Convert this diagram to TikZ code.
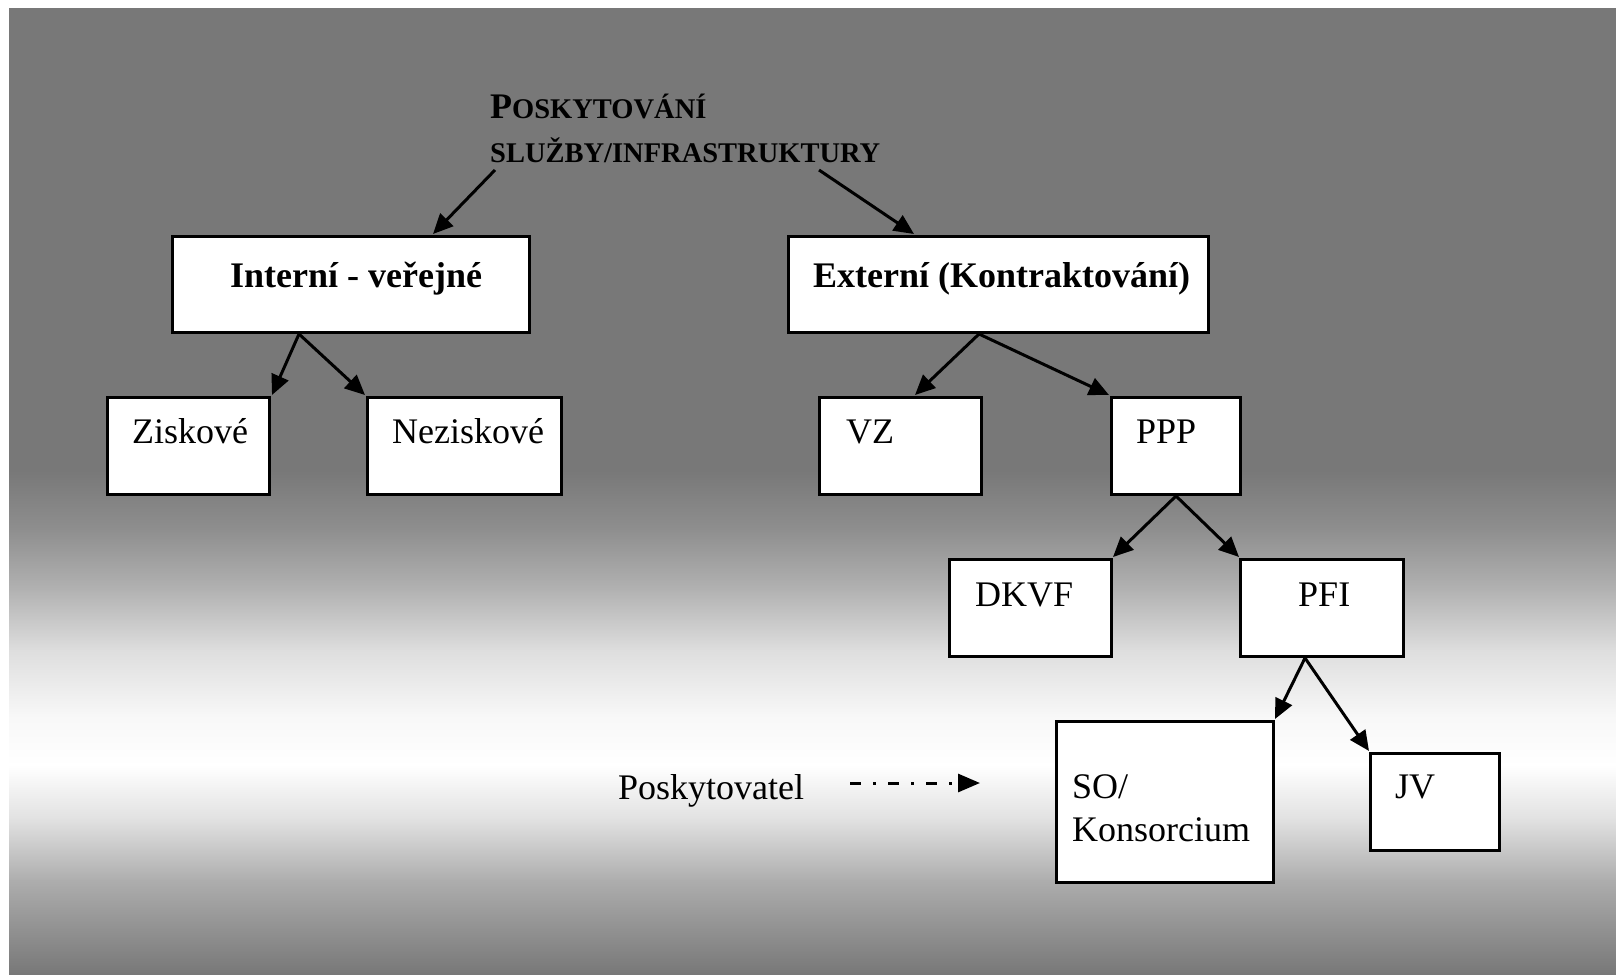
\documentclass[tikz,border=0pt]{standalone}
\usepackage{fontspec}
\setmainfont{Liberation Serif}
\usetikzlibrary{arrows.meta,calc}
\begin{document}
\begin{tikzpicture}[x=1pt,y=-1pt,
  boxnode/.style={draw=black,line width=3pt,fill=white,inner sep=0pt,anchor=north west},
  txt/.style={anchor=base west,inner sep=0pt,font=\fontsize{36}{43}\selectfont},
  btxt/.style={anchor=base west,inner sep=0pt,font=\fontsize{36}{43}\selectfont\bfseries},
  conn/.style={line width=3pt,-{Triangle[length=20pt,width=18pt]}},
  dconn/.style={line width=3pt,dash pattern=on 11pt off 12pt on 3pt off 12pt,-{Triangle[length=22pt,width=18pt]}}]
\useasboundingbox (0,0) rectangle (1616,974);
% background
\fill[white] (0,0) rectangle (1616,974);
\fill[black!53] (9,8) rectangle (1616,471);
\shade[top color=black!53,bottom color=black!44] (9,470) rectangle (1616,531);
\shade[top color=black!44,bottom color=black!30] (9,530) rectangle (1616,591);
\shade[top color=black!30,bottom color=black!13] (9,590) rectangle (1616,651);
\shade[top color=black!13,bottom color=black!3] (9,650) rectangle (1616,716);
\shade[top color=black!3,bottom color=white] (9,715) rectangle (1616,766);
\shade[top color=white,bottom color=black!12] (9,765) rectangle (1616,821);
\shade[top color=black!12,bottom color=black!32] (9,820) rectangle (1616,881);
\shade[top color=black!32,bottom color=black!53] (9,880) rectangle (1616,974);
% title
\node[anchor=base west,inner sep=0pt,font=\bfseries] (title1) at (490,118)
  {\fontsize{36}{40}\selectfont P\fontsize{28.5}{34}\selectfont OSKYTOVÁNÍ};
\node[anchor=base west,inner sep=0pt,font=\bfseries\fontsize{28.5}{34}\selectfont] (title2) at (490,162)
  {SLUŽBY/INFRASTRUKTURY};
% boxes
\node[boxnode,minimum width=357pt,minimum height=96pt] (int) at (171,235) {};
\node[boxnode,minimum width=420pt,minimum height=96pt] (ext) at (787,235) {};
\node[boxnode,minimum width=162pt,minimum height=97pt] (zis) at (106,396) {};
\node[boxnode,minimum width=194pt,minimum height=97pt] (nez) at (366,396) {};
\node[boxnode,minimum width=162pt,minimum height=97pt] (vz) at (818,396) {};
\node[boxnode,minimum width=129pt,minimum height=97pt] (ppp) at (1110,396) {};
\node[boxnode,minimum width=162pt,minimum height=97pt] (dkvf) at (948,558) {};
\node[boxnode,minimum width=163pt,minimum height=97pt] (pfi) at (1239,558) {};
\node[boxnode,minimum width=217pt,minimum height=161pt] (so) at (1055,720) {};
\node[boxnode,minimum width=129pt,minimum height=97pt] (jv) at (1369,752) {};
% texts
\node[btxt] (tint) at (230,287) {Interní - veřejné};
\node[btxt] (text) at (813,287) {Externí (Kontraktování)};
\node[txt] (tzis) at (132,443) {Ziskové};
\node[txt] (tnez) at (392,443) {Neziskové};
\node[txt] (tvz) at (846,443) {VZ};
\node[txt] (tppp) at (1136,443) {PPP};
\node[txt] (tdkvf) at (975,606) {DKVF};
\node[txt] (tpfi) at (1298,606) {PFI};
\node[txt] (tso1) at (1072,798) {SO/};
\node[txt] (tso2) at (1072,841) {Konsorcium};
\node[txt] (tjv) at (1395,798) {JV};
\node[txt] (posk) at (618,799) {Poskytovatel};
% connector points
\coordinate (s1) at ($(title2.base west)+(5,8)$);
\coordinate (s2) at ($(title2.base west)+(329,8)$);
\coordinate (sint) at ($(int.south west)+(128,0)$);
\coordinate (sext) at ($(ext.south west)+(192,0)$);
\coordinate (sppp) at (ppp.south);
\coordinate (spfi) at ($(pfi.south west)+(66,0)$);
% connectors
\draw[conn] (s1) -- ($(int.north west)+(262,-1)$);
\draw[conn] (s2) -- ($(ext.north west)+(127,-1)$);
\draw[conn] (sint) -- ($(zis.north east)+(1,-1)$);
\draw[conn] (sint) -- ($(nez.north west)+(-1,-1)$);
\draw[conn] (sext) -- ($(vz.north west)+(97,-1)$);
\draw[conn] (sext) -- ($(ppp.north west)+(-1,-1)$);
\draw[conn] (sppp) -- ($(dkvf.north east)+(0,-1)$);
\draw[conn] (sppp) -- ($(pfi.north west)+(0,-1)$);
\draw[conn] (spfi) -- ($(so.north east)+(0,-1)$);
\draw[conn] (spfi) -- ($(jv.north west)+(0,-1)$);
% legend arrow
\coordinate (dstart) at (850,783);
\coordinate (dend) at (980,783);
\draw[dconn] (dstart) -- (dend);
\end{tikzpicture}
\end{document}
